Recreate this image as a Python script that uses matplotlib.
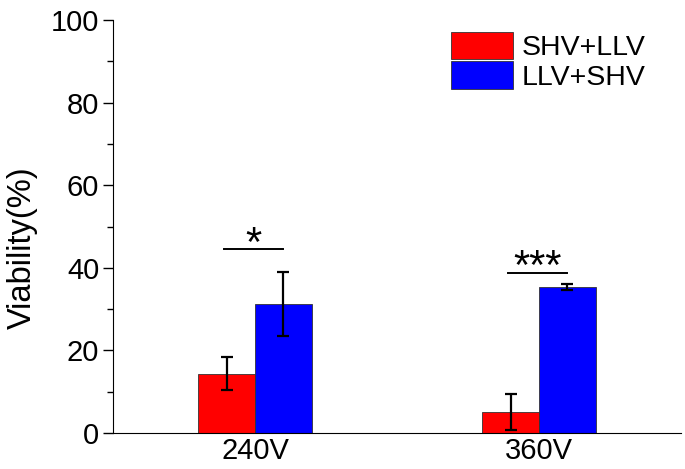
import numpy as np
import matplotlib.pyplot as plt
from matplotlib.ticker import MultipleLocator

plt.rcParams['font.family'] = ['Liberation Sans', 'DejaVu Sans']

# data
groups = ["240V", "360V"]
shv_llv = [14.3, 5.0]
shv_llv_err = [4.0, 4.4]
llv_shv = [31.2, 35.3]
llv_shv_err = [7.7, 0.7]
sig_labels = ["*", "***"]
sig_heights = [44.5, 38.8]

x = np.arange(1, len(groups) + 1)
w = 0.2

fig = plt.figure(figsize=(6.85, 4.69), dpi=100)
ax = fig.add_axes([0.165, 0.077, 0.829, 0.880])

err_kw = dict(ecolor="black", elinewidth=1.6, capsize=4, capthick=1.6)
ax.bar(x - w / 2, shv_llv, w, yerr=shv_llv_err, color="#ff0000",
       edgecolor="#333333", linewidth=0.6, label="SHV+LLV", error_kw=err_kw)
ax.bar(x + w / 2, llv_shv, w, yerr=llv_shv_err, color="#0000ff",
       edgecolor="#333333", linewidth=0.6, label="LLV+SHV", error_kw=err_kw)

# significance marks
for xi, h, s in zip(x, sig_heights, sig_labels):
    ax.plot([xi - 0.11, xi + 0.1], [h, h], color="black", lw=1.4)
    ax.text(xi - 0.005, h - 1.6, s, ha="center", va="baseline", fontsize=30)

ax.set_xlim(0.5, 2.5)
ax.set_ylim(0, 100)
ax.set_xticks(x)
ax.set_xticklabels(groups)
ax.yaxis.set_major_locator(MultipleLocator(20))
ax.yaxis.set_minor_locator(MultipleLocator(10))
ax.tick_params(axis="y", which="major", direction="out", length=7, width=1, labelsize=21, pad=3)
ax.tick_params(axis="y", which="minor", direction="out", length=4, width=1)
ax.tick_params(axis="x", length=0, labelsize=21, pad=3)
ax.spines["top"].set_visible(False)
ax.spines["right"].set_visible(False)
ax.set_ylabel("Viability(%)", fontsize=23.5)
ax.yaxis.set_label_coords(-0.133, 0.448)

ax.legend(loc="upper right", bbox_to_anchor=(0.957, 1.0), frameon=False, fontsize=20.5,
          handlelength=2.15, handleheight=1.12, labelspacing=0.0, handletextpad=0.3,
          borderaxespad=0.0)

fig.savefig("out.png", dpi=100)
